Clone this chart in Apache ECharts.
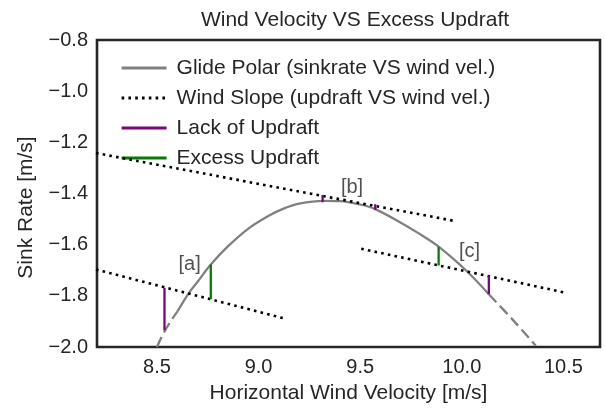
<!DOCTYPE html>
<html><head><meta charset="utf-8">
<script src="https://cdn.jsdelivr.net/npm/echarts@6/dist/echarts.min.js"></script>
<style>html,body{margin:0;padding:0;background:#fff}#c{width:605px;height:409px}</style>
</head><body><div id="c"></div>
<script>
const chartTitle = 'Wind Velocity VS Excess Updraft';
const xName = 'Horizontal Wind Velocity [m/s]';
const yName = 'Sink Rate [m/s]';
const xTicks = [8.5, 9.0, 9.5, 10.0, 10.5];
const yTicks = [-2.0, -1.8, -1.6, -1.4, -1.2, -1.0, -0.8];

const legendNames = ['Glide Polar (sinkrate VS wind vel.)', 'Wind Slope (updraft VS wind vel.)', 'Lack of Updraft', 'Excess Updraft'];

// glide polar
const polarX = [8.50, 8.54, 8.60, 8.656, 8.70, 8.765, 8.85, 8.95, 9.05, 9.12, 9.20, 9.32, 9.40, 9.50, 9.574, 9.70, 9.78, 9.886, 10.025, 10.133, 10.25, 10.364];
const polarY = [-2.00, -1.935, -1.862, -1.790, -1.745, -1.678, -1.606, -1.537, -1.487, -1.460, -1.440, -1.429, -1.430, -1.443, -1.461, -1.514, -1.552, -1.608, -1.704, -1.794, -1.893, -1.995];
const solidFrom = 8.60, solidTo = 10.133;

// wind slope lines
const slopeAX = [8.2, 9.12],   slopeAY = [-1.697, -1.887];
const slopeBX = [8.2, 9.968],  slopeBY = [-1.242, -1.508];
const slopeCX = [9.505, 10.5], slopeCY = [-1.616, -1.786];

// vertical difference segments
const lackX = [8.537, 9.315, 9.574, 10.133];
const lackTop = [-1.768, -1.406, -1.442, -1.722];
const lackBottom = [-1.935, -1.434, -1.464, -1.794];
const excessX = [8.765, 9.886];
const excessTop = [-1.678, -1.609];
const excessBottom = [-1.812, -1.681];

// annotations
const annText = ['[a]', '[b]', '[c]'];
const annX = [8.661, 9.460, 10.038];
const annY = [-1.677, -1.376, -1.628];

const FONT = 'Liberation Sans, Arial, Helvetica, sans-serif';
const TXT = '#262626';
const LW = 2.3;

function pts(xs, ys, lo, hi) {
  const out = [];
  for (let i = 0; i < xs.length; i++) if (xs[i] >= lo - 1e-9 && xs[i] <= hi + 1e-9) out.push([xs[i], ys[i]]);
  return out;
}
function fmt(v) { return (v < 0 ? '\u2212' : '') + Math.abs(v).toFixed(1); }

const series = [];
series.push({ name: legendNames[0], type: 'line', data: pts(polarX, polarY, solidFrom, solidTo), smooth: 0.35, symbol: 'none',
  lineStyle: { color: '#808080', width: LW }, itemStyle: { color: '#808080' }, z: 3 });
series.push({ name: 'polar-extrap-left', type: 'line', data: pts(polarX, polarY, -Infinity, solidFrom), smooth: 0.35, symbol: 'none',
  lineStyle: { color: '#808080', width: LW, type: [11, 5] }, z: 3 });
series.push({ name: 'polar-extrap-right', type: 'line', data: pts(polarX, polarY, solidTo, Infinity), smooth: 0.35, symbol: 'none',
  lineStyle: { color: '#808080', width: LW, type: [11, 5] }, z: 3 });
[[slopeAX, slopeAY], [slopeBX, slopeBY], [slopeCX, slopeCY]].forEach(([xs, ys]) => {
  series.push({ name: legendNames[1], type: 'line', data: pts(xs, ys, -Infinity, Infinity), symbol: 'none',
    lineStyle: { color: '#000', width: 2.6, type: [2.6, 4.2], cap: 'butt' }, itemStyle: { color: '#000' }, z: 4 });
});
lackX.forEach((x, i) => {
  series.push({ name: legendNames[2], type: 'line', data: [[x, lackTop[i]], [x, lackBottom[i]]], symbol: 'none',
    lineStyle: { color: '#800080', width: LW }, itemStyle: { color: '#800080' }, z: 5 });
});
excessX.forEach((x, i) => {
  series.push({ name: legendNames[3], type: 'line', data: [[x, excessTop[i]], [x, excessBottom[i]]], symbol: 'none',
    lineStyle: { color: '#008000', width: LW }, itemStyle: { color: '#008000' }, z: 5 });
});
series.push({ name: 'annotations', type: 'scatter', symbolSize: 0, silent: true,
  data: annText.map((t, i) => ({ name: t, value: [annX[i], annY[i]] })),
  label: { show: true, position: 'inside', formatter: p => p.name, color: TXT, fontSize: 20, fontFamily: FONT }, z: 6 });

const chart = echarts.init(document.getElementById('c'), null, { renderer: 'canvas' });
chart.setOption({
  animation: false,
  backgroundColor: '#fff',
  title: { text: chartTitle, left: 350, top: 5, textAlign: 'center',
    textStyle: { color: TXT, fontSize: 21, fontWeight: 'normal', fontFamily: FONT } },
  legend: {
    data: legendNames, orient: 'vertical', left: 115, top: 52,
    itemWidth: 45, itemHeight: 14, itemGap: 8,
    itemStyle: { color: 'transparent', borderWidth: 0, opacity: 0 },
    lineStyle: { width: 3.2 },
    textStyle: { color: TXT, fontSize: 21, fontFamily: FONT, lineHeight: 22, padding: [0, 0, 0, 5] },
    selectedMode: false
  },
  grid: { left: 97, right: 5, top: 40, bottom: 60, show: true, borderColor: '#262626', borderWidth: 2.6, backgroundColor: 'transparent' },
  xAxis: {
    type: 'value', min: 8.205, max: 10.68,
    name: xName, nameLocation: 'middle', nameGap: 36,
    nameTextStyle: { color: TXT, fontSize: 21, fontFamily: FONT },
    axisLine: { show: false }, axisTick: { show: false }, splitLine: { show: false },
    axisLabel: { customValues: xTicks, formatter: fmt, color: TXT, fontSize: 20, fontFamily: FONT, margin: 10 }
  },
  yAxis: {
    type: 'value', min: -2.0, max: -0.8, interval: 0.2,
    name: yName, nameLocation: 'middle', nameGap: 60,
    nameTextStyle: { color: TXT, fontSize: 21, fontFamily: FONT, padding: [0, 28, 0, 0] },
    axisLine: { show: false }, axisTick: { show: false }, splitLine: { show: false },
    axisLabel: { customValues: yTicks, formatter: fmt, color: TXT, fontSize: 20, fontFamily: FONT, margin: 9 }
  },
  series: series
});
</script>
</body></html>
